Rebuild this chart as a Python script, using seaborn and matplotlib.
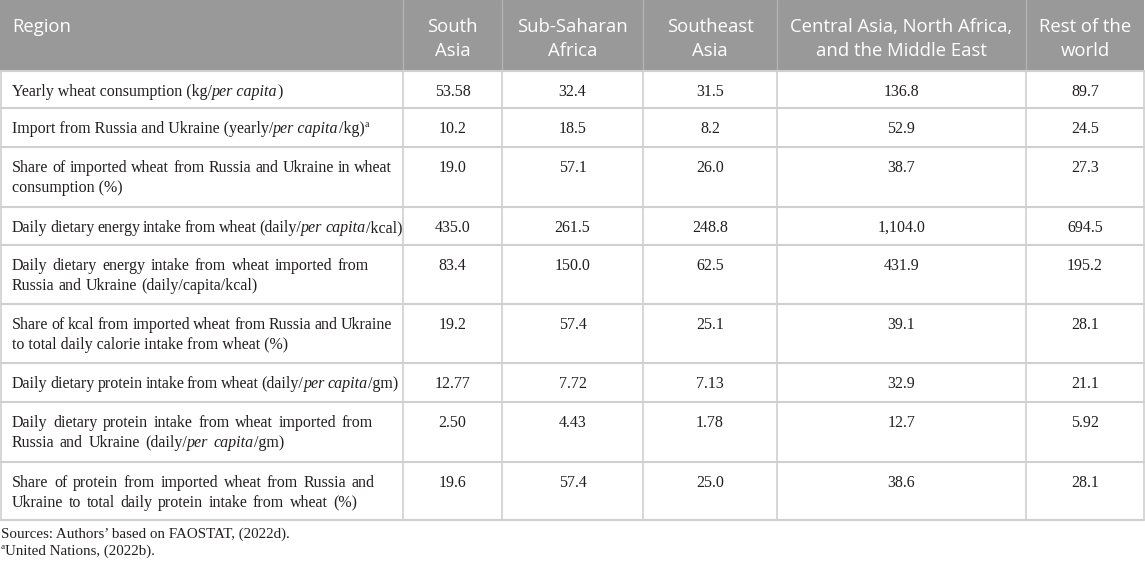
import re
import matplotlib
matplotlib.use("Agg")
import matplotlib.pyplot as plt
from matplotlib.patches import Rectangle
import seaborn as sns

# ---------------- data ----------------
header_first = "Region"
regions = ["South\nAsia", "Sub-Saharan\nAfrica", "Southeast\nAsia",
           "Central Asia, North Africa,\nand the Middle East", "Rest of the\nworld"]

indicators = [
    ["Yearly wheat consumption (kg/*per capita*)"],
    ["Import from Russia and Ukraine (yearly/*per capita*/kg)^a^"],
    ["Share of imported wheat from Russia and Ukraine in wheat", "consumption (%)"],
    ["Daily dietary energy intake from wheat (daily/*per capita*/kcal)"],
    ["Daily dietary energy intake from wheat imported from", "Russia and Ukraine (daily/capita/kcal)"],
    ["Share of kcal from imported wheat from Russia and Ukraine", "to total daily calorie intake from wheat (%)"],
    ["Daily dietary protein intake from wheat (daily/*per capita*/gm)"],
    ["Daily dietary protein intake from wheat imported from", "Russia and Ukraine (daily/*per capita*/gm)"],
    ["Share of protein from imported wheat from Russia and", "Ukraine to total daily protein intake from wheat (%)"],
]

south_asia = ["53.58", "10.2", "19.0", "435.0", "83.4", "19.2", "12.77", "2.50", "19.6"]
sub_saharan_africa = ["32.4", "18.5", "57.1", "261.5", "150.0", "57.4", "7.72", "4.43", "57.4"]
southeast_asia = ["31.5", "8.2", "26.0", "248.8", "62.5", "25.1", "7.13", "1.78", "25.0"]
central_asia_na_me = ["136.8", "52.9", "38.7", "1,104.0", "431.9", "39.1", "32.9", "12.7", "38.6"]
rest_of_world = ["89.7", "24.5", "27.3", "694.5", "195.2", "28.1", "21.1", "5.92", "28.1"]

footnotes = ["Sources: Authors\u2019 based on FAOSTAT, (2022d).", "^a^United Nations, (2022b)."]

columns = [south_asia, sub_saharan_africa, southeast_asia, central_asia_na_me, rest_of_world]

# ---------------- layout / style ----------------
W, H = 1145, 565
col_edges = [0, 403, 502, 643, 777, 1026, 1144]
row_edges = [0, 71, 108, 147, 207, 245, 304, 363, 402, 462, 520]
# right edge of each label line in the typeset original (word spacing), None = natural
line_ends = [[None], [None], [392, None], [392], [369, 258], [392, None], [391],
             [373, 284], [375, 357]]

HEADER_BG = "#999999"
HEADER_SEP = "#b4b4b4"
GRID = "#d0d0d0"
TEXT = "#231f20"
SERIF = ["Liberation Serif", "DejaVu Serif"]
SANS = ["Open Sans", "DejaVu Sans"]
BODY_PT = 11.5
HEAD_PT = 13.3
FOOT_PT = 10.8

sns.set_theme(style="white")
plt.rcParams["font.family"] = SERIF

fig = plt.figure(figsize=(W / 100, H / 100), dpi=100)
ax = fig.add_axes([0, 0, 1, 1])
ax.set_xlim(0, W)
ax.set_ylim(H, 0)
ax.axis("off")
fig.canvas.draw()
renderer = fig.canvas.get_renderer()


def _w(s, size, style, family):
    t = ax.text(0, 0, s, fontsize=size, style=style, family=family)
    w = t.get_window_extent(renderer).width
    t.remove()
    return w


def adv(s, size, style="normal", family=SERIF):
    if not s:
        return 0.0
    return _w("|" + s + "|", size, style, family) - _w("||", size, style, family)


def runs(s, size):
    out = []
    for p in re.split(r"(\*[^*]+\*|\^[^^]+\^)", s):
        if not p:
            continue
        style, sz, dy = "normal", size, 0.0
        if p.startswith("*"):
            p, style = p[1:-1], "italic"
        elif p.startswith("^"):
            p, sz, dy = p[1:-1], size * 0.62, -size * 100 / 72 * 0.38
        out.append((p, style, sz, dy))
    return out


def rich(x, y, s, size, family=SERIF, color=TEXT, end=None):
    rs = runs(s, size)
    if end is None:
        # draw each style run as a whole (native kerning)
        for p, style, sz, dy in rs:
            ax.text(x, y + dy, p, fontsize=sz, style=style, family=family,
                    color=color, va="baseline", ha="left")
            x += adv(p, sz, style, family)
        return x
    nat_sp = adv(" ", size, "normal", family)
    toks = []
    for p, style, sz, dy in rs:
        for q in re.split(r"( +)", p):
            if not q:
                continue
            if q.startswith(" "):
                toks.append(("sp", len(q)))
            else:
                toks.append(("w", q, style, sz, dy))
    words_w = sum(adv(t[1], t[3], t[2], family) for t in toks if t[0] == "w")
    n_sp = sum(t[1] for t in toks if t[0] == "sp")
    sp = nat_sp
    if n_sp > 0:
        sp = (end - x - words_w) / n_sp
        sp = min(max(sp, 0.7 * nat_sp), 2.0 * nat_sp)
    for t in toks:
        if t[0] == "sp":
            x += t[1] * sp
        else:
            _, q, style, sz, dy = t
            ax.text(x, y + dy, q, fontsize=sz, style=style, family=family,
                    color=color, va="baseline", ha="left")
            x += adv(q, sz, style, family)
    return x


# header background
ax.add_patch(Rectangle((0, 0), col_edges[-1], row_edges[1], facecolor=HEADER_BG,
                       edgecolor="none", zorder=0))
for xe in col_edges[1:-1]:
    ax.plot([xe, xe], [0, row_edges[1]], color=HEADER_SEP, lw=0.9, zorder=1)

# body grid
for ye in row_edges[1:]:
    ax.plot([0, col_edges[-1]], [ye, ye], color=GRID, lw=1.5, zorder=1)
for xe in col_edges:
    xx = min(max(xe, 0.7), col_edges[-1])
    ax.plot([xx, xx], [row_edges[1], row_edges[-1]], color=GRID, lw=1.2, zorder=1)

# header text
ax.text(12, 32, header_first, fontsize=HEAD_PT, family=SANS, color="white",
        va="baseline", ha="left")
for j, name in enumerate(regions):
    cx = (col_edges[j + 1] + col_edges[j + 2]) / 2
    for k, line in enumerate(name.split("\n")):
        ax.text(cx, 32 + 24 * k, line, fontsize=HEAD_PT, family=SANS, color="white",
                va="baseline", ha="center")

# body text
for i, lines in enumerate(indicators):
    top = row_edges[i + 1]
    for k, line in enumerate(lines):
        rich(12, top + 25 + 20 * k, line, BODY_PT, end=line_ends[i][k])
    for j, col in enumerate(columns):
        cx = (col_edges[j + 1] + col_edges[j + 2]) / 2
        ax.text(cx, top + 25, col[i], fontsize=BODY_PT, color=TEXT,
                va="baseline", ha="center")

# footnotes
rich(1, 538, footnotes[0], FOOT_PT)
rich(1, 555, footnotes[1], FOOT_PT)

fig.savefig("out.png", dpi=100)
